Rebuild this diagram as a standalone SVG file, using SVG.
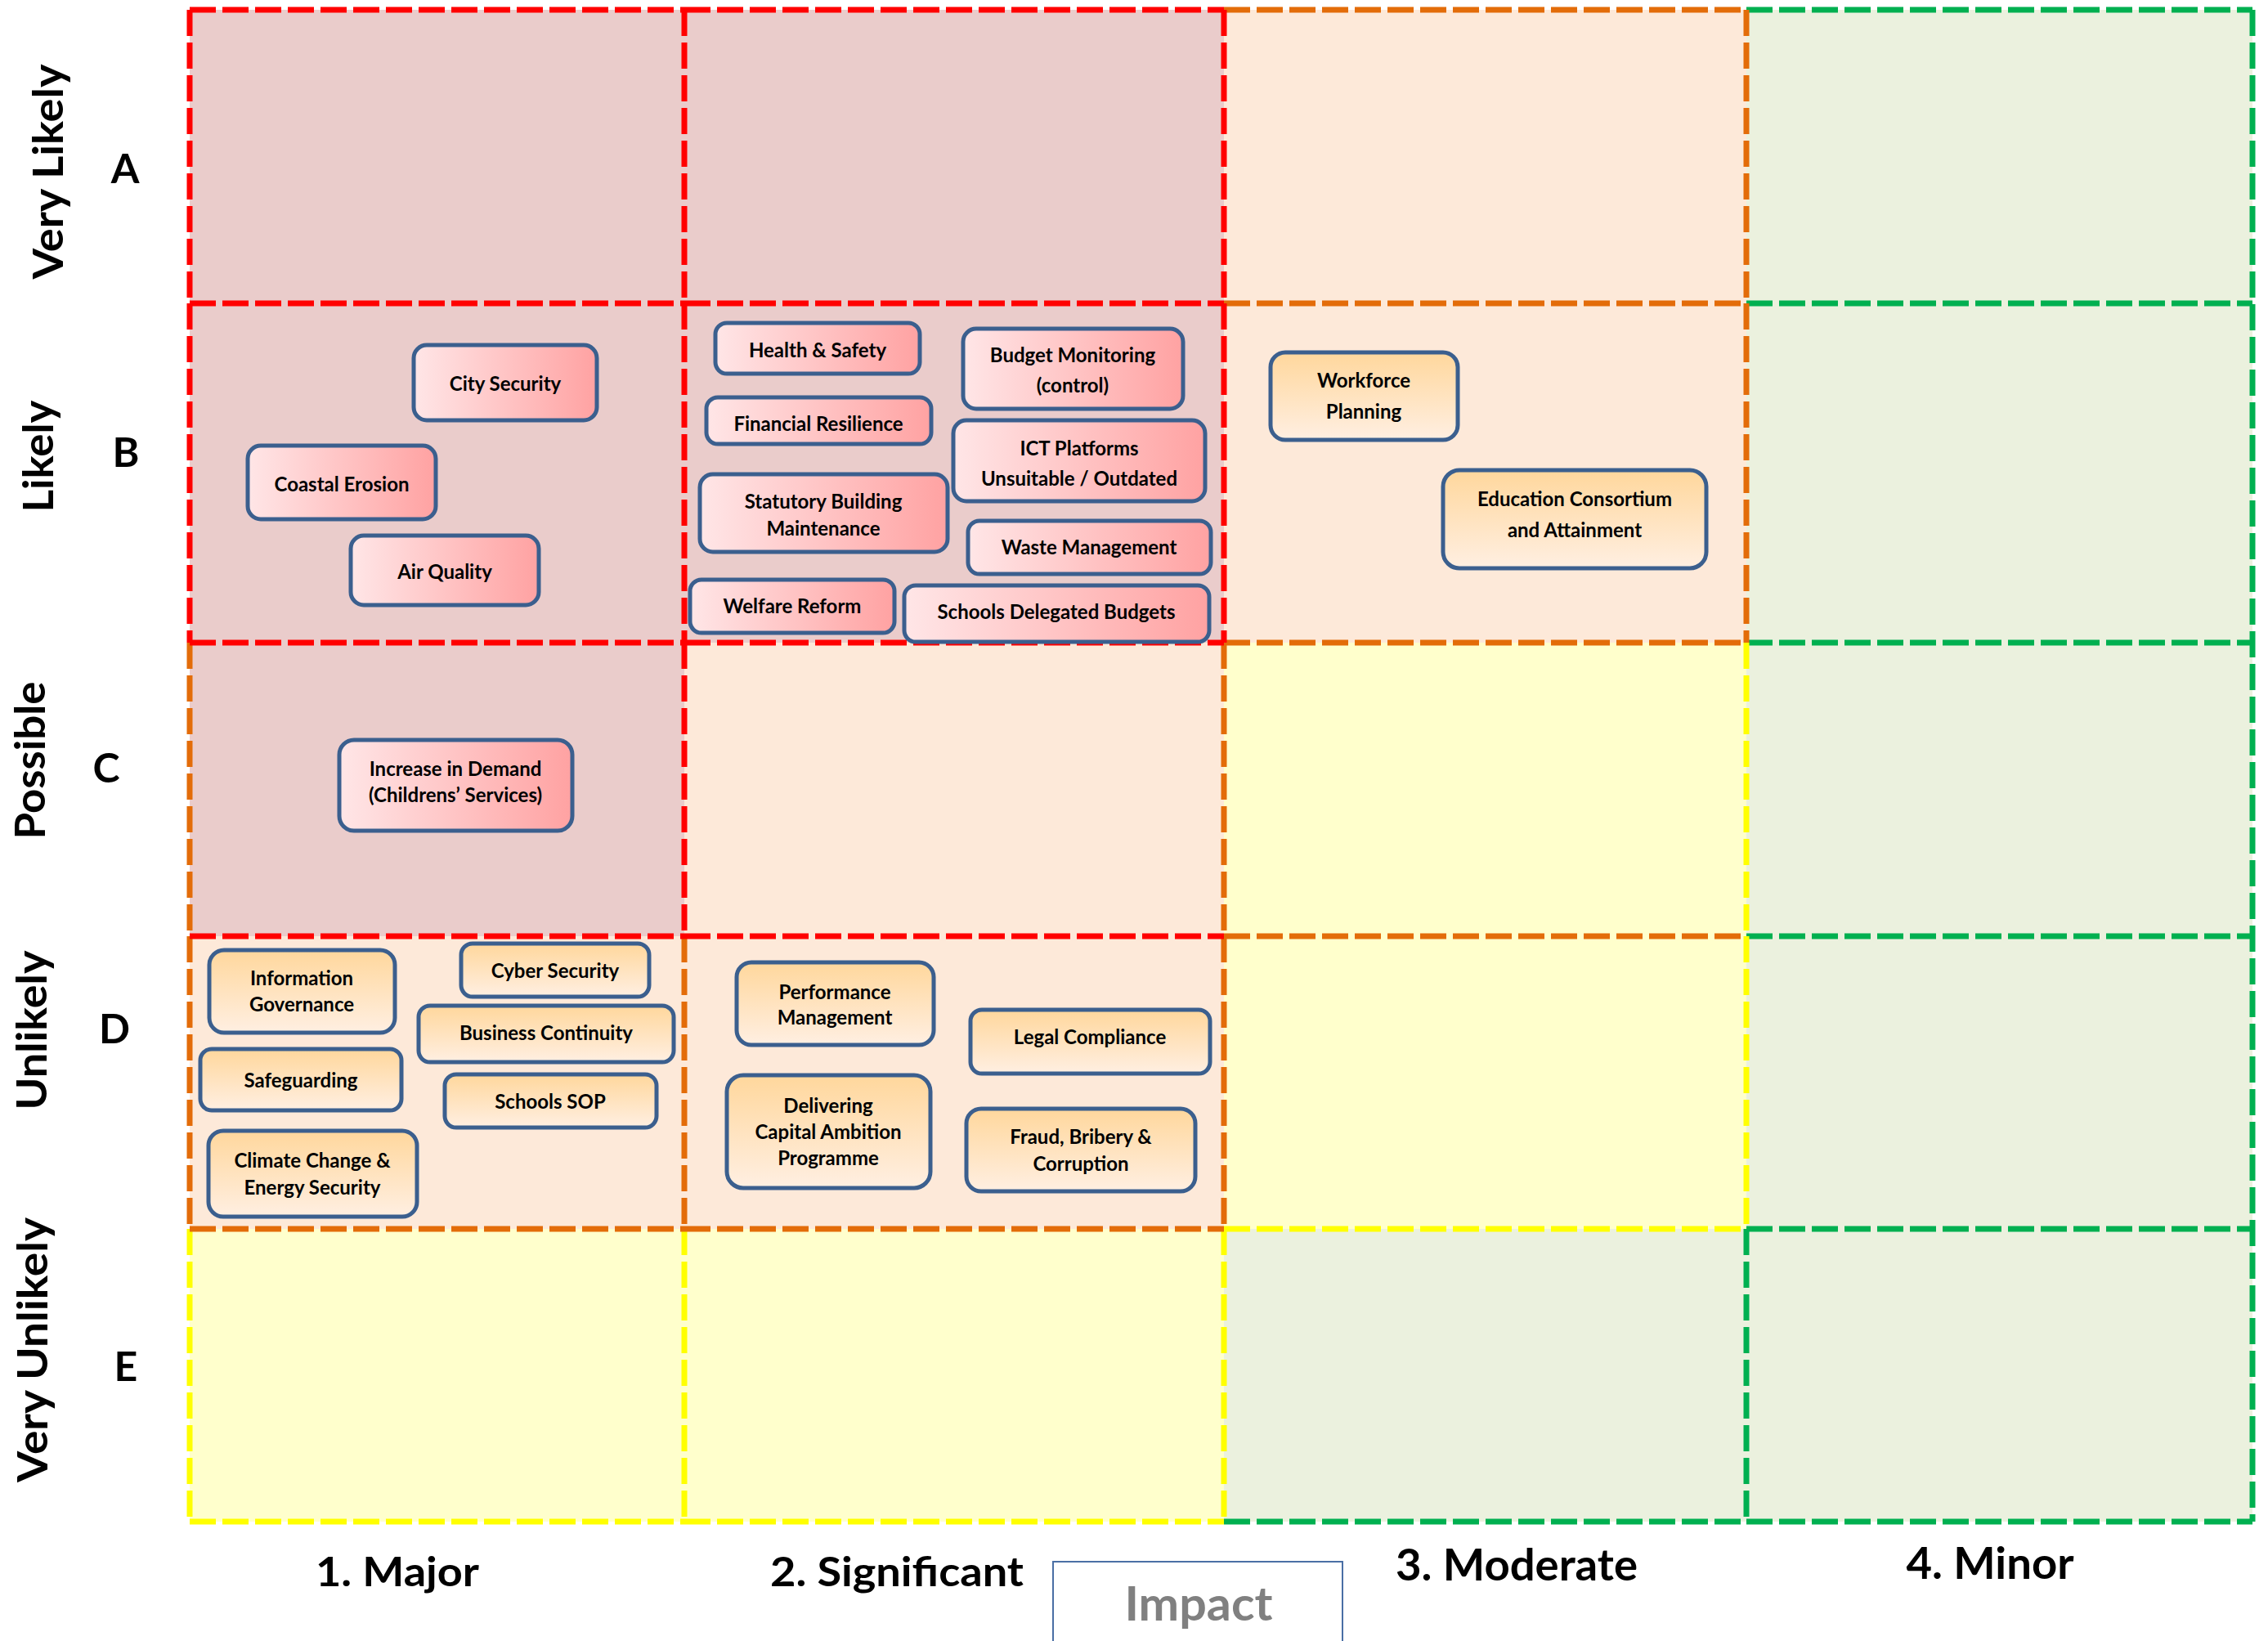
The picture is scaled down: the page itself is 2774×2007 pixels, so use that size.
<svg xmlns="http://www.w3.org/2000/svg" width="2774" height="2007" viewBox="0 0 2774 2007">
<defs>
<linearGradient id="gr" x1="0" y1="0" x2="1" y2="0">
<stop offset="0" stop-color="#FFE6E7"/>
<stop offset="1" stop-color="#FFA2A2"/>
</linearGradient>
<linearGradient id="go" x1="0" y1="0" x2="0" y2="1">
<stop offset="0" stop-color="#FFD79C"/>
<stop offset="1" stop-color="#FFEFE2"/>
</linearGradient>
<style>
.pink{fill:#EACCCB}
.peach{fill:#FDE9D9}
.yel{fill:#FFFFCC}
.grn{fill:#EBF1DE}
.b{fill:none;stroke-width:7;stroke-dasharray:32 8}
.br{stroke:#FF0000}
.bo{stroke:#E36C09}
.by{stroke:#FFFF00}
.bg{stroke:#00B050}
.nr{fill:url(#gr);stroke:#3B5F8E;stroke-width:5}
.no{fill:url(#go);stroke:#3B5F8E;stroke-width:5}
.t{font-family:Lato,"Liberation Sans",sans-serif;font-weight:bold;font-size:24px;fill:#000;text-anchor:middle}
.ax{font-family:Lato,"Liberation Sans",sans-serif;font-weight:bold;fill:#000;text-anchor:middle}
</style>
</defs>
<rect width="2774" height="2007" fill="#FFFFFF"/>
<g id="grid">
<g id="cells">
<rect class="pink" x="232" y="12" width="605" height="359"/>
<rect class="pink" x="837" y="12" width="660" height="359"/>
<rect class="peach" x="1497" y="12" width="639" height="359"/>
<rect class="grn" x="2136" y="12" width="619" height="359"/>
<rect class="pink" x="232" y="371" width="605" height="415"/>
<rect class="pink" x="837" y="371" width="660" height="415"/>
<rect class="peach" x="1497" y="371" width="639" height="415"/>
<rect class="grn" x="2136" y="371" width="619" height="415"/>
<rect class="pink" x="232" y="786" width="605" height="359"/>
<rect class="peach" x="837" y="786" width="660" height="359"/>
<rect class="yel" x="1497" y="786" width="639" height="359"/>
<rect class="grn" x="2136" y="786" width="619" height="359"/>
<rect class="peach" x="232" y="1145" width="605" height="358"/>
<rect class="peach" x="837" y="1145" width="660" height="358"/>
<rect class="yel" x="1497" y="1145" width="639" height="358"/>
<rect class="grn" x="2136" y="1145" width="619" height="358"/>
<rect class="yel" x="232" y="1503" width="605" height="358"/>
<rect class="yel" x="837" y="1503" width="660" height="358"/>
<rect class="grn" x="1497" y="1503" width="639" height="358"/>
<rect class="grn" x="2136" y="1503" width="619" height="358"/>
</g>
<g id="borders">
<path class="b bg" d="M2136 12H2755M2136 371H2755M2136 786H2755M2136 1145H2755M2136 1503H2755M1497 1861H2136M2136 1861H2755M2136 1503V1861M2755 12V1861"/>
<path class="b by" d="M1497 1503H2136M232 1861H837M837 1861H1497M232 1503V1861M837 1503V1861M1497 1503V1861M2136 786V1145M2136 1145V1503"/>
<path class="b bo" d="M1497 12H2136M1497 371H2136M1497 786H2136M1497 1145H2136M232 1503H837M837 1503H1497M232 786V1145M232 1145V1503M837 1145V1503M1497 786V1145M1497 1145V1503M2136 12V371M2136 371V786"/>
<path class="b br" d="M232 12H837M837 12H1497M232 371H837M837 371H1497M232 786H837M837 786H1497M232 1145H837M837 1145H1497M232 12V371M232 371V786M837 12V371M837 371V786M837 786V1145M1497 12V371M1497 371V786"/>
</g>
</g>
<g id="axis-labels">
<text class="ax" font-size="52" transform="translate(77 210) rotate(-90)" textLength="263" lengthAdjust="spacingAndGlyphs">Very Likely</text>
<text class="ax" font-size="52" transform="translate(65 558) rotate(-90)" textLength="137" lengthAdjust="spacingAndGlyphs">Likely</text>
<text class="ax" font-size="52" transform="translate(55 930) rotate(-90)" textLength="193" lengthAdjust="spacingAndGlyphs">Possible</text>
<text class="ax" font-size="52" transform="translate(57 1260) rotate(-90)" textLength="195" lengthAdjust="spacingAndGlyphs">Unlikely</text>
<text class="ax" font-size="52" transform="translate(58 1651) rotate(-90)" textLength="324" lengthAdjust="spacingAndGlyphs">Very Unlikely</text>
<text class="ax" font-size="50" x="153" y="224">A</text>
<text class="ax" font-size="50" x="154" y="571">B</text>
<text class="ax" font-size="50" x="130" y="957">C</text>
<text class="ax" font-size="50" x="140" y="1276">D</text>
<text class="ax" font-size="50" x="154" y="1689">E</text>
<text class="ax" font-size="50" x="486" y="1940" textLength="200" lengthAdjust="spacingAndGlyphs">1. Major</text>
<text class="ax" font-size="50" x="1097" y="1940" textLength="310" lengthAdjust="spacingAndGlyphs">2. Significant</text>
<text class="ax" font-size="53" x="1855" y="1933" textLength="296" lengthAdjust="spacingAndGlyphs">3. Moderate</text>
<text class="ax" font-size="53" x="2434" y="1931" textLength="205" lengthAdjust="spacingAndGlyphs">4. Minor</text>
</g>
<g id="impact-box">
<rect x="1288" y="1910" width="354" height="130" fill="#FFFFFF" stroke="#4A6FA5" stroke-width="2"/>
<text class="ax" font-size="57" x="1466" y="1982" fill="#808080" style="fill:#808080" textLength="181" lengthAdjust="spacingAndGlyphs">Impact</text>
</g>
<g id="node-city-security"><rect class="nr" x="506" y="422" width="224" height="92" rx="16"/><text class="t" x="618" y="478">City Security</text></g>
<g id="node-coastal-erosion"><rect class="nr" x="303" y="545" width="230" height="90" rx="16"/><text class="t" x="418" y="601">Coastal Erosion</text></g>
<g id="node-air-quality"><rect class="nr" x="429" y="655" width="230" height="85" rx="16"/><text class="t" x="544" y="708">Air Quality</text></g>
<g id="node-health-safety"><rect class="nr" x="875" y="395" width="250" height="62" rx="14"/><text class="t" x="1000" y="437">Health &amp; Safety</text></g>
<g id="node-budget-monitoring"><rect class="nr" x="1178" y="402" width="269" height="98" rx="16"/><text class="t" x="1312" y="443">Budget Monitoring</text><text class="t" x="1312" y="480">(control)</text></g>
<g id="node-financial-resilience"><rect class="nr" x="864" y="486" width="275" height="57" rx="14"/><text class="t" x="1001" y="527">Financial Resilience</text></g>
<g id="node-ict-platforms"><rect class="nr" x="1166" y="514" width="308" height="99" rx="16"/><text class="t" x="1320" y="557">ICT Platforms</text><text class="t" x="1320" y="594">Unsuitable / Outdated</text></g>
<g id="node-statutory-building"><rect class="nr" x="856" y="580" width="303" height="95" rx="16"/><text class="t" x="1007" y="622">Statutory Building</text><text class="t" x="1007" y="655">Maintenance</text></g>
<g id="node-waste-management"><rect class="nr" x="1184" y="637" width="297" height="65" rx="14"/><text class="t" x="1332" y="678">Waste Management</text></g>
<g id="node-welfare-reform"><rect class="nr" x="844" y="709" width="250" height="65" rx="14"/><text class="t" x="969" y="750">Welfare Reform</text></g>
<g id="node-schools-delegated-budgets"><rect class="nr" x="1106" y="716" width="373" height="69" rx="14"/><text class="t" x="1292" y="757">Schools Delegated Budgets</text></g>
<g id="node-increase-in-demand"><rect class="nr" x="415" y="905" width="285" height="111" rx="18"/><text class="t" x="557" y="949">Increase in Demand</text><text class="t" x="557" y="981">(Childrens’ Services)</text></g>
<g id="node-workforce-planning"><rect class="no" x="1554" y="431" width="229" height="107" rx="18"/><text class="t" x="1668" y="474">Workforce</text><text class="t" x="1668" y="512">Planning</text></g>
<g id="node-education-consortium"><rect class="no" x="1765" y="575" width="322" height="120" rx="20"/><text class="t" x="1926" y="619">Education Consortium</text><text class="t" x="1926" y="657">and Attainment</text></g>
<g id="node-information-governance"><rect class="no" x="256" y="1162" width="227" height="101" rx="18"/><text class="t" x="369" y="1205">Information</text><text class="t" x="369" y="1237">Governance</text></g>
<g id="node-cyber-security"><rect class="no" x="564" y="1154" width="230" height="65" rx="14"/><text class="t" x="679" y="1196">Cyber Security</text></g>
<g id="node-business-continuity"><rect class="no" x="512" y="1230" width="312" height="69" rx="14"/><text class="t" x="668" y="1272">Business Continuity</text></g>
<g id="node-safeguarding"><rect class="no" x="245" y="1283" width="246" height="75" rx="14"/><text class="t" x="368" y="1330">Safeguarding</text></g>
<g id="node-schools-sop"><rect class="no" x="544" y="1314" width="259" height="65" rx="14"/><text class="t" x="673" y="1356">Schools SOP</text></g>
<g id="node-climate-change"><rect class="no" x="255" y="1383" width="255" height="105" rx="18"/><text class="t" x="382" y="1428">Climate Change &amp;</text><text class="t" x="382" y="1461">Energy Security</text></g>
<g id="node-performance-management"><rect class="no" x="901" y="1177" width="241" height="101" rx="18"/><text class="t" x="1021" y="1222">Performance</text><text class="t" x="1021" y="1253">Management</text></g>
<g id="node-legal-compliance"><rect class="no" x="1187" y="1235" width="293" height="78" rx="14"/><text class="t" x="1333" y="1277">Legal Compliance</text></g>
<g id="node-delivering-capital-ambition"><rect class="no" x="889" y="1315" width="249" height="138" rx="20"/><text class="t" x="1013" y="1361">Delivering</text><text class="t" x="1013" y="1393">Capital Ambition</text><text class="t" x="1013" y="1425">Programme</text></g>
<g id="node-fraud-bribery"><rect class="no" x="1182" y="1356" width="280" height="101" rx="18"/><text class="t" x="1322" y="1399">Fraud, Bribery &amp;</text><text class="t" x="1322" y="1432">Corruption</text></g>
</svg>
